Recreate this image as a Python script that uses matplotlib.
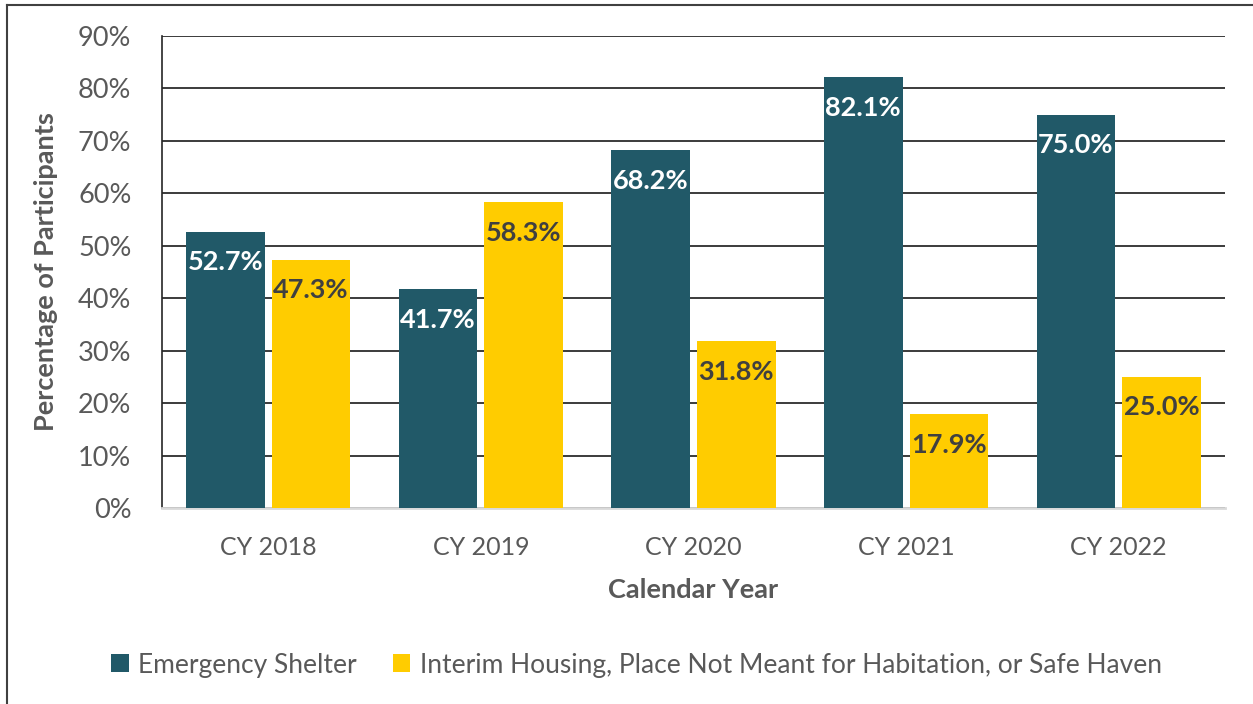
import numpy as np
import matplotlib.pyplot as plt
from matplotlib.ticker import FuncFormatter

# ----- data -----
years = ["CY 2018", "CY 2019", "CY 2020", "CY 2021", "CY 2022"]
shelter = [52.7, 41.7, 68.2, 82.1, 75.0]
interim = [47.3, 58.3, 31.8, 17.9, 25.0]
series_names = ["Emergency Shelter",
                "Interim Housing, Place Not Meant for Habitation, or Safe Haven"]

teal = "#215968"
yellow = "#FFCC00"
gray = "#595959"

plt.rcParams['font.family'] = ['Lato', 'DejaVu Sans']

fig = plt.figure(figsize=(12.53, 7.04), dpi=100)
ax = fig.add_axes([162 / 1253, 1 - 508 / 704, (1225 - 162) / 1253, (508 - 36) / 704])

# border of the chart box (left and top only are visible)
fig.add_artist(plt.Line2D([7 / 1253, 7 / 1253], [0, 1 - 5 / 704], color="#404040", lw=1.5,
                          transform=fig.transFigure))
fig.add_artist(plt.Line2D([7 / 1253, 1], [1 - 5 / 704, 1 - 5 / 704], color="#404040", lw=1.5,
                          transform=fig.transFigure))

x = np.arange(len(years))
w = 0.37
gap = 0.033
b1 = ax.bar(x - (w + gap) / 2, shelter, w, color=teal, label=series_names[0], zorder=3)
b2 = ax.bar(x + (w + gap) / 2, interim, w, color=yellow, label=series_names[1], zorder=3)

for rect, v in zip(b1, shelter):
    ax.text(rect.get_x() + rect.get_width() / 2, v - 5.8, f"{v:.1f}%", ha="center", va="center",
            color="white", fontsize=19.5, fontweight="bold", zorder=4)
for rect, v in zip(b2, interim):
    ax.text(rect.get_x() + rect.get_width() / 2, v - 5.8, f"{v:.1f}%", ha="center", va="center",
            color="#404040", fontsize=19.5, fontweight="bold", zorder=4)

ax.set_xlim(-0.5, len(years) - 0.5)
ax.set_ylim(0, 90)
ax.set_yticks(np.arange(0, 91, 10))
ax.yaxis.set_major_formatter(FuncFormatter(lambda v, p: f"{v:.0f}%"))
ax.set_xticks(x)
ax.set_xticklabels(years)
ax.grid(axis="y", color="#1a1a1a", lw=1.2, zorder=0)
ax.tick_params(axis="both", length=0, labelcolor=gray)
ax.tick_params(axis="x", pad=20, labelsize=18)
ax.tick_params(axis="y", pad=22, labelsize=19.5)

for s in ["top", "right"]:
    ax.spines[s].set_visible(False)
ax.spines["left"].set_color("#262626")
ax.spines["left"].set_linewidth(1.2)
ax.spines["bottom"].set_color("#d9d9d9")
ax.spines["bottom"].set_linewidth(2)

ax.set_ylabel("Percentage of Participants", fontsize=19.5, fontweight="bold", color=gray, labelpad=14)
ax.set_xlabel("Calendar Year", fontsize=19.5, fontweight="bold", color=gray, labelpad=14)

fig.legend(handles=[b1, b2], labels=series_names, loc="center", bbox_to_anchor=(0.508, 1 - 665 / 704),
           ncol=2, frameon=False, fontsize=19, labelcolor=gray, handlelength=0.65, handleheight=0.65,
           handletextpad=0.35, columnspacing=1.4)

fig.savefig("out.png", dpi=100)
